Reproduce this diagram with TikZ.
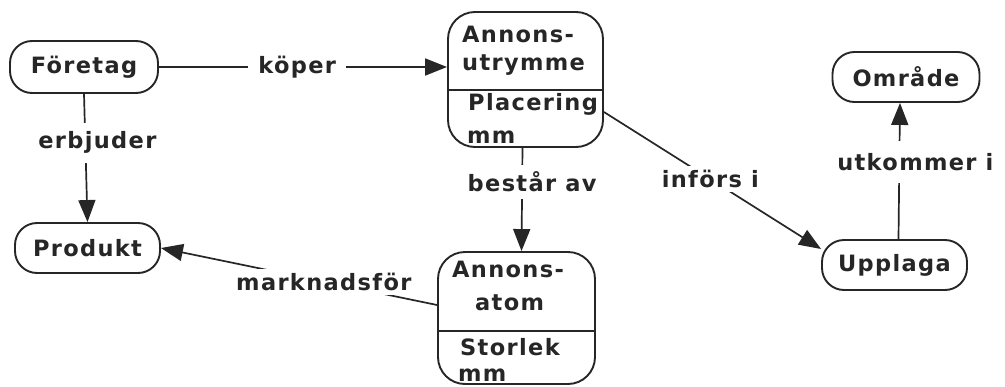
\documentclass[tikz,border=0pt]{standalone}
\usepackage{fontspec}
\newfontfamily\diafont{DejaVu Sans}[LetterSpace=6]
\usetikzlibrary{arrows.meta}
\definecolor{ink}{HTML}{262626}
\begin{document}
\begin{tikzpicture}[x=1pt,y=-1pt,
  every node/.style={font=\diafont\bfseries\fontsize{22.5pt}{27pt}\selectfont, text=ink},
  pill/.style={draw=ink, line width=1.9pt, rounded corners=22pt, minimum height=50pt, inner sep=0pt},
  card/.style={draw=ink, line width=1.9pt, rounded corners=27pt, inner sep=0pt},
  txt/.style={anchor=base west, inner sep=0pt},
  lbl/.style={fill=white, inner sep=6pt},
  link/.style={draw=ink, line width=1.7pt},
  arr/.style={link, -{Triangle[length=22pt,width=17pt]}}
]
\useasboundingbox (0,0) rectangle (1005,386);

% entity pills
\node[pill, minimum width=148pt, minimum height=52pt] (foretag) at (84,67) {Företag};
\node[pill, minimum width=145pt] (produkt) at (87.5,248) {Produkt};
\node[pill, minimum width=147pt] (omrade) at (906,77) {Område};
\node[pill, minimum width=145pt] (upplaga) at (894.5,265) {Upplaga};

% two-part cards
\node[card, minimum width=155pt, minimum height=135pt] (utrymme) at (525.5,79.5) {};
\node[card, minimum width=157pt, minimum height=132pt] (atom) at (516.5,318) {};
\draw[link] (utrymme.west |- 0,90) -- (utrymme.east |- 0,90);
\draw[link] (atom.west |- 0,331) -- (atom.east |- 0,331);

\node[txt] (ut1) at (462,42) {Annons-};
\node[txt] (ut2) at (462,70) {utrymme};
\node[txt] (ut3) at (468,110) {Placering};
\node[txt] (ut4) at (467,143) {mm};
\node[txt] (at1) at (452,277) {Annons-};
\node[txt] (at2) at (475,310) {atom};
\node[txt] (at3) at (460,355) {Storlek};
\node[txt] (at4) at (458,381) {mm};

% relations
\draw[arr] (foretag.east) -- node[lbl, pos=0.48, inner xsep=10pt] {köper} (foretag.east -| utrymme.west);
\draw[arr] (foretag.south) -- node[lbl, pos=0.38, xshift=12pt, inner ysep=9pt] {erbjuder} (produkt.north);
\draw[arr] ([xshift=-3pt]utrymme.south) -- node[lbl, pos=0.33, xshift=10pt, inner ysep=7pt] {består av} ([xshift=5pt]atom.north);
\draw[arr] ([yshift=13pt]atom.west) -- node[lbl, pos=0.41, inner ysep=4pt] {marknadsför} (produkt.east);
\draw[arr] ([yshift=-32.5pt]utrymme.east) -- node[lbl, pos=0.49, inner sep=4pt] {införs i} ([yshift=16pt]upplaga.west);
\draw[arr] ([xshift=4pt]upplaga.north) -- node[lbl, pos=0.565, xshift=16pt, inner ysep=12pt] {utkommer i} ([xshift=-6pt]omrade.south);
\end{tikzpicture}
\end{document}
